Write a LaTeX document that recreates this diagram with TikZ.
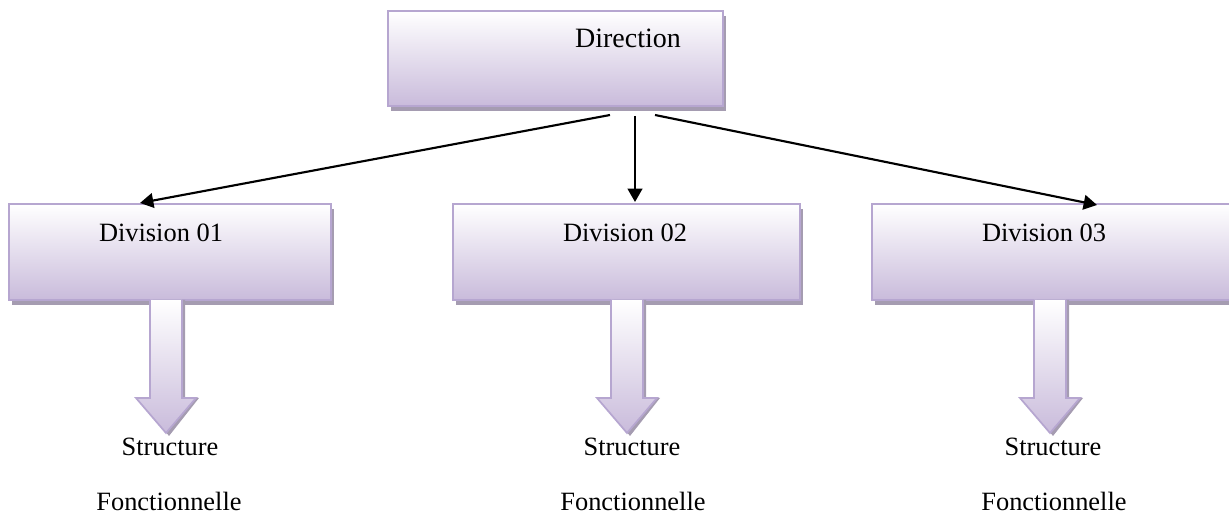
\documentclass[tikz,border=0pt]{standalone}
\usepackage{fontspec}
\setmainfont{Liberation Serif}
\usetikzlibrary{arrows.meta,shadows}
\definecolor{lavline}{HTML}{B6A6D0}
\definecolor{lavfill}{HTML}{C9BBDB}
\definecolor{shadowcol}{HTML}{A59CB1}
\tikzset{
  box/.style={rectangle, draw=lavline, line width=1.5pt, inner sep=0pt,
    top color=white, bottom color=lavfill, anchor=north west,
    general shadow={fill=shadowcol, draw=none, shadow xshift=2.6pt, shadow yshift=-3.8pt}},
  lbl/.style={font=\fontsize{19.8}{24}\selectfont, inner sep=0pt, anchor=base},
  conn/.style={line width=1.6pt, -{Triangle[length=10pt,width=11pt]}},
  blockarrow/.pic={
    \fill[shadowcol] (-13,0) -- (-13,98) -- (-27,98) -- (3,136) -- (33,98) -- (19,98) -- (19,0) -- cycle;
    \shade[top color=white, bottom color=lavfill]
      (-16,0) -- (-16,98) -- (-30,98) -- (0,133) -- (30,98) -- (16,98) -- (16,0) -- cycle;
    \draw[lavline, line width=1.3pt, line join=miter]
      (-16,0) -- (-16,98) -- (-30,98) -- (0,133) -- (30,98) -- (16,98) -- (16,0);
  }
}
\begin{document}
\begin{tikzpicture}[x=0.75pt, y=-0.75pt]
  \useasboundingbox (0,0) rectangle (1229,523);

  % boxes
  \node[box, minimum width=251.25pt, minimum height=71.25pt] (dir) at (387,10) {};
  \node[box, minimum width=241.5pt, minimum height=72pt] (d1) at (8,203) {};
  \node[box, minimum width=260.25pt, minimum height=72pt] (d2) at (452,203) {};
  \node[box, minimum width=280.5pt, minimum height=72pt] (d3) at (871,203) {};

  % box labels
  \node[lbl, font=\fontsize{21}{25}\selectfont] (dirt) at (628,48) {Direction};
  \node[lbl] (d1t) at (161,242) {Division 01};
  \node[lbl] (d2t) at (625,242) {Division 02};
  \node[lbl] (d3t) at (1044,242) {Division 03};

  % connectors from the direction to the divisions
  \coordinate (s1) at (610,115);
  \coordinate (s2) at (635,116);
  \coordinate (s3) at (655,115);
  \coordinate (e1) at (140,203);
  \coordinate (e2) at (635,202);
  \coordinate (e3) at (1097,205);
  \draw[conn] (s1) -- (e1);
  \draw[conn] (s2) -- (e2);
  \draw[conn] (s3) -- (e3);

  % block arrows below the divisions
  \pic at (166,300) {blockarrow};
  \pic at (627,300) {blockarrow};
  \pic at (1050,300) {blockarrow};

  % captions
  \node[lbl] (c1a) at (170,456) {Structure};
  \node[lbl] (c1b) at (169,511) {Fonctionnelle};
  \node[lbl] (c2a) at (632,456) {Structure};
  \node[lbl] (c2b) at (633,511) {Fonctionnelle};
  \node[lbl] (c3a) at (1053,456) {Structure};
  \node[lbl] (c3b) at (1054,511) {Fonctionnelle};
\end{tikzpicture}
\end{document}
